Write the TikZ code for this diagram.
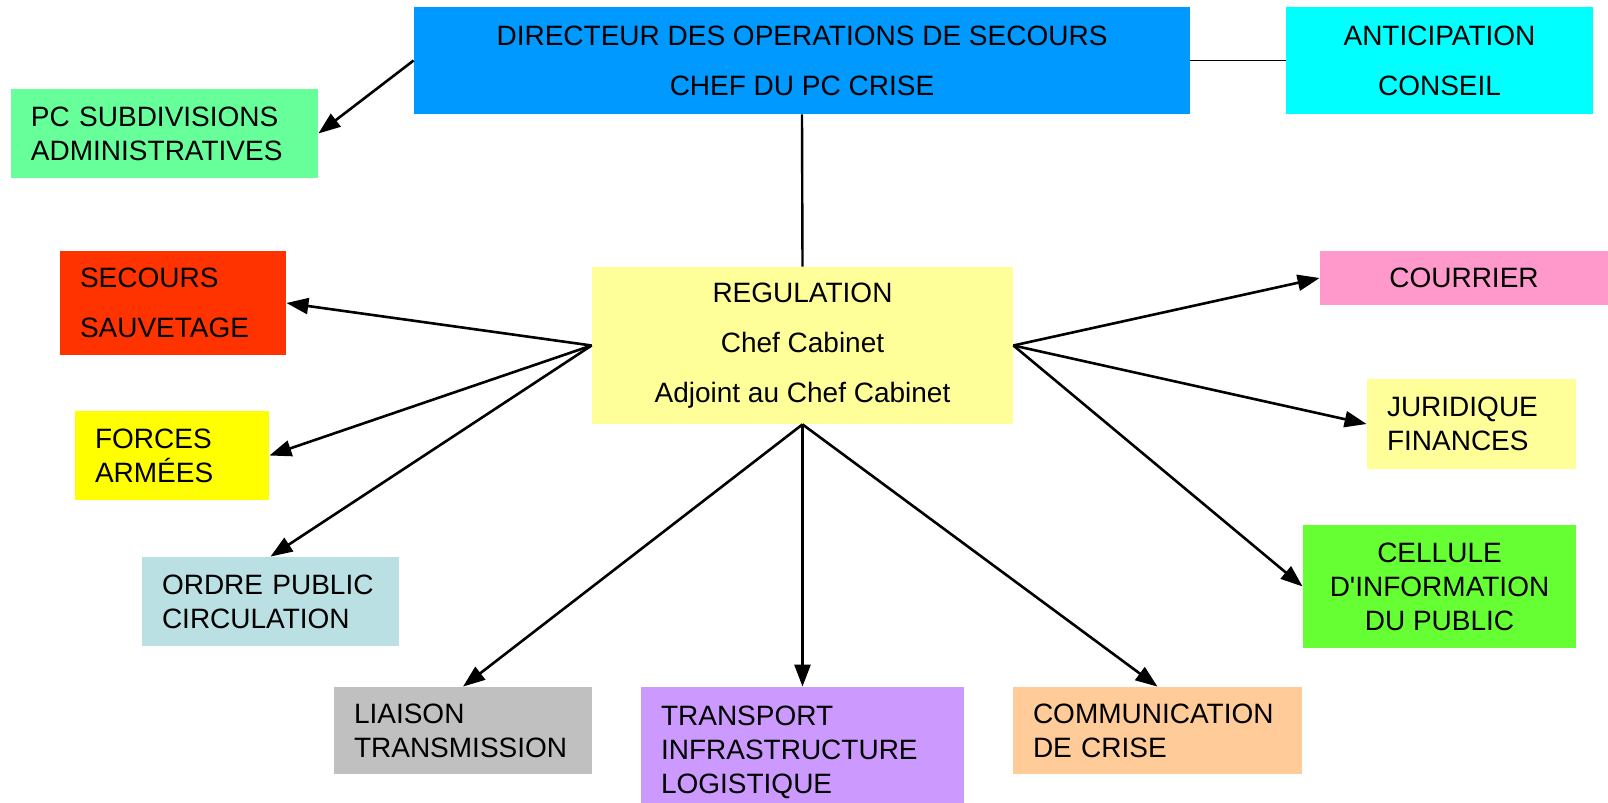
\documentclass[tikz,border=0pt]{standalone}
\usepackage{fontspec}
\setmainfont{Liberation Sans}
\usetikzlibrary{arrows.meta}

\definecolor{dosblue}{HTML}{0099FF}
\definecolor{antcyan}{HTML}{00FFFF}
\definecolor{pcgreen}{HTML}{66FF99}
\definecolor{secred}{HTML}{FF3300}
\definecolor{frcyellow}{HTML}{FFFF00}
\definecolor{ordblue}{HTML}{BBE0E3}
\definecolor{liagray}{HTML}{C0C0C0}
\definecolor{trapurple}{HTML}{CC99FF}
\definecolor{comorange}{HTML}{FFCC99}
\definecolor{regyellow}{HTML}{FFFF99}
\definecolor{coupink}{HTML}{FF99CC}
\definecolor{celgreen}{HTML}{66FF33}

\begin{document}
\begin{tikzpicture}[x=0.5pt,y=-0.5pt,
  box/.style={rectangle, inner sep=0pt, font=\fontsize{14}{17}\selectfont},
  wide/.style={font=\fontsize{14}{25}\selectfont},
  lft/.style={align=left, inner xsep=10pt, text width=#1},
  arr/.style={-{Triangle[length=11pt,width=8pt]}, line width=1.3pt}]
\useasboundingbox (0,0) rectangle (1608,803);

\node[box, wide, fill=dosblue, align=center, minimum width=388pt, minimum height=53.5pt] (dos) at (802,60.5) {DIRECTEUR DES OPERATIONS DE SECOURS\\CHEF DU PC CRISE};
\node[box, wide, fill=antcyan, align=center, minimum width=153.5pt, minimum height=53.5pt] (ant) at (1439.5,60.5) {ANTICIPATION\\CONSEIL};
\node[box, fill=pcgreen, lft=133.5pt, minimum height=44.5pt] (pc) at (164.5,133.5) {PC SUBDIVISIONS\\ADMINISTRATIVES};

\node[box, wide, fill=regyellow, align=center, minimum width=210.5pt, minimum height=78.5pt] (reg) at (802.5,345.5) {REGULATION\\Chef Cabinet\\Adjoint au Chef Cabinet};

\node[box, wide, fill=secred, lft=93pt, minimum height=52pt] (sec) at (173,303) {SECOURS\\SAUVETAGE};
\node[box, fill=frcyellow, lft=77pt, minimum height=44.5pt] (frc) at (172,455.5) {FORCES\\ARMÉES};
\node[box, fill=ordblue, lft=108.5pt, minimum height=44.5pt] (ord) at (270.5,601.5) {ORDRE PUBLIC\\CIRCULATION};

\node[box, fill=liagray, lft=109pt, minimum height=43.5pt] (lia) at (463,730.5) {LIAISON\\TRANSMISSION};
\node[box, fill=trapurple, lft=141.5pt, minimum height=65pt] (tra) at (802.5,752) {TRANSPORT\\INFRASTRUCTURE\\LOGISTIQUE};
\node[box, fill=comorange, lft=124.5pt, minimum height=43.5pt] (com) at (1157.5,730.5) {COMMUNICATION\\DE CRISE};

\node[box, fill=coupink, align=center, minimum width=144pt, minimum height=27pt] (cou) at (1464,278) {COURRIER};
\node[box, fill=regyellow, lft=84.5pt, minimum height=45pt] (jur) at (1471.5,424) {JURIDIQUE\\FINANCES};
\node[box, fill=celgreen, align=center, minimum width=136.5pt, minimum height=61.5pt] (cel) at (1439.5,586.5) {CELLULE\\D\textquotesingle INFORMATION\\DU PUBLIC};

\draw[line width=0.9pt] (dos.east) -- (ant.west);
\draw[arr] (dos.west) -- (pc.east);
\draw[line width=1.2pt] (dos.south) -- (reg.north);

\foreach \n in {sec,frc} \draw[arr] (reg.west) -- (\n.east);
\draw[arr] (reg.west) -- (ord.north);
\foreach \n in {lia,tra,com} \draw[arr] (reg.south) -- (\n.north);
\foreach \n in {cou,jur,cel} \draw[arr] (reg.east) -- (\n.west);
\end{tikzpicture}
\end{document}
